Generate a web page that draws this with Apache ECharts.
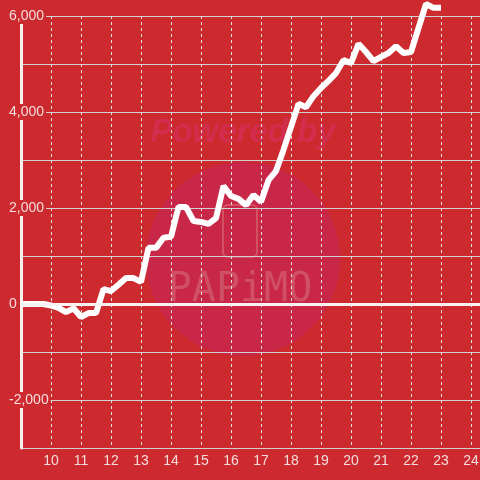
<!DOCTYPE html>
<html>
<head>
<meta charset="utf-8">
<script src="https://cdn.jsdelivr.net/npm/echarts@6/dist/echarts.min.js"></script>
<style>
  html, body { margin: 0; padding: 0; background: #cc2a2f; }
  #chart { width: 480px; height: 480px; }
</style>
</head>
<body>
<div id="chart"></div>
<script>
// hour of day (quarter-hour steps) and running profit
const hours = [
  9, 9.25, 9.5, 9.75, 10, 10.25, 10.5, 10.75, 11, 11.25, 11.5, 11.75,
  12, 12.25, 12.5, 12.75, 13, 13.25, 13.5, 13.75, 14, 14.25, 14.5, 14.75,
  15, 15.25, 15.5, 15.75, 16, 16.25, 16.5, 16.75, 17, 17.25, 17.5, 17.75,
  18, 18.25, 18.5, 18.75, 19, 19.25, 19.5, 19.75, 20, 20.25, 20.5, 20.75,
  21, 21.25, 21.5, 21.75, 22, 22.25, 22.5, 22.75, 23
]
const profit = [
  0, 0, 0, 0, -30, -80, -170, -90, -270, -190, -190, 310,
  270, 400, 540, 540, 460, 1170, 1170, 1380, 1400, 2020, 2020, 1730,
  1710, 1670, 1790, 2460, 2250, 2190, 2060, 2270, 2130, 2580, 2770, 3210,
  3690, 4170, 4100, 4330, 4500, 4650, 4810, 5080, 5020, 5420, 5250, 5060,
  5150, 5230, 5370, 5230, 5250, 5750, 6250, 6170, 6170
]
const yLabels = [-2000, 0, 2000, 4000, 6000]

const BG = '#cc2a2f'
const TEXT = '#f4dcdc'
const FONT = 'Liberation Sans'

const chart = echarts.init(document.getElementById('chart'))
chart.setOption({
  backgroundColor: BG,
  animation: false,
  grid: { left: 21, right: -21, top: 16, bottom: 32, outerBoundsMode: 'none' },
  graphic: [
    {
      type: 'circle', z: -1, silent: true,
      shape: { cx: 243, cy: 259, r: 97 },
      style: { fill: '#c92748' }
    },
    {
      type: 'text', z: -1, silent: true, x: 243, y: 133,
      style: {
        text: 'Powered by', fill: '#d02e4c',
        font: 'italic bold 33px "Liberation Sans"',
        align: 'center', verticalAlign: 'middle'
      }
    },
    {
      type: 'rect', z: -1, silent: true,
      shape: { x: 223, y: 205, width: 34, height: 52, r: 5 },
      style: { fill: null, stroke: '#d25264', lineWidth: 2 }
    },
    {
      type: 'text', z: -1, silent: true, x: 240, y: 291,
      style: {
        text: 'PAPiMO', fill: '#d05064',
        font: '40px "DejaVu Sans Mono"',
        align: 'center', verticalAlign: 'middle'
      }
    }
  ],
  xAxis: {
    type: 'value',
    min: 9,
    max: 25,
    interval: 1,
    axisLine: { show: false },
    axisTick: { show: false },
    axisLabel: {
      showMinLabel: false,
      color: TEXT, fontSize: 14, fontFamily: FONT, margin: 6
    },
    splitLine: { lineStyle: { color: '#e2e2e2', type: [3, 3], width: 1 } }
  },
  yAxis: {
    type: 'value',
    min: -3000,
    max: 6000,
    interval: 1000,
    axisLine: { show: true, lineStyle: { color: '#f6f0f0', width: 3 } },
    axisTick: { show: false },
    axisLabel: {
      color: TEXT, fontSize: 14, fontFamily: FONT,
      align: 'left', margin: 14,
      backgroundColor: BG, padding: [1, 2],
      formatter: v => yLabels.includes(v) ? v.toLocaleString('en-US') : ''
    },
    splitLine: { lineStyle: { color: '#cfd0d0', width: 1 } }
  },
  series: [{
    type: 'line',
    data: hours.map((h, i) => [h, profit[i]]),
    showSymbol: false,
    clip: false,
    lineStyle: { color: '#ffffff', width: 6 },
    markLine: {
      silent: true,
      symbol: 'none',
      label: { show: false },
      lineStyle: { color: '#f8f2f2', type: 'solid', width: 3 },
      data: [{ yAxis: 0 }]
    }
  }]
})
</script>
</body>
</html>
